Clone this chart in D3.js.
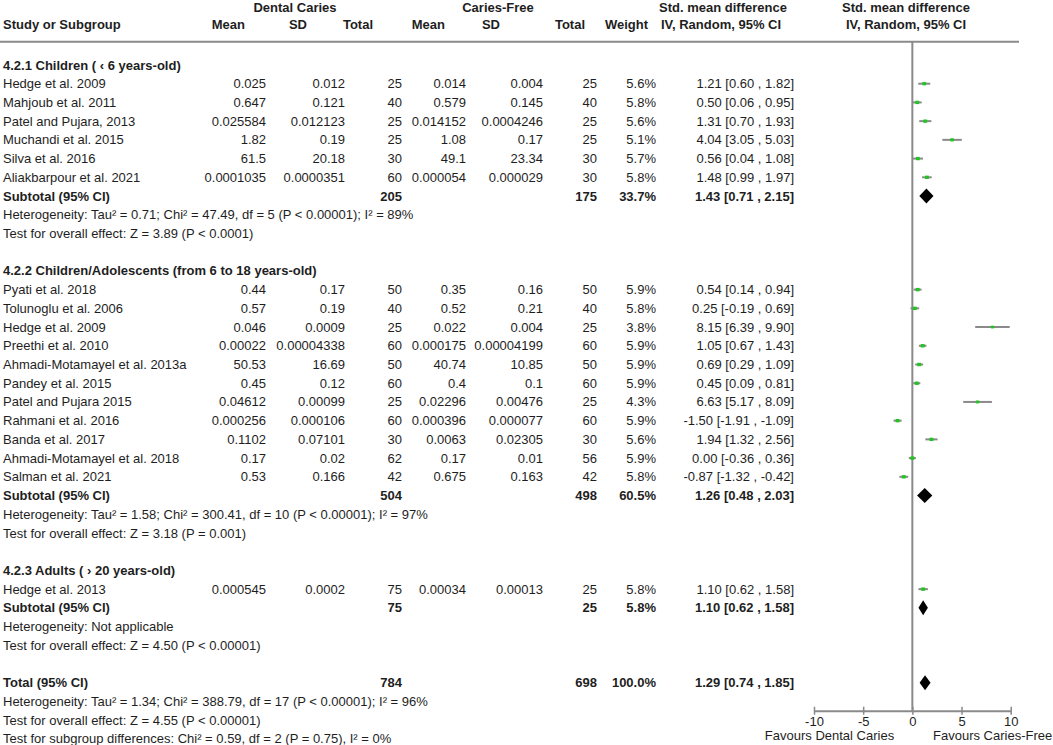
<!DOCTYPE html>
<html><head><meta charset="utf-8">
<script src="https://cdn.jsdelivr.net/npm/d3@7"></script>
<style>
body{margin:0;background:#fff}
svg text{font-family:"Liberation Sans",Arial,sans-serif;font-size:13px;fill:#1e1e1e}
</style>
</head><body><svg id="c" width="1053" height="745"></svg>
<script>
// ---------- data ----------
const groupTitles = ["4.2.1 Children ( \u2039 6 years-old)", "4.2.2 Children/Adolescents (from 6 to 18 years-old)", "4.2.3 Adults ( \u203A 20 years-old)"];
const studyGroup = [0,0,0,0,0,0, 1,1,1,1,1,1,1,1,1,1,1, 2];
const studies = ["Hedge et al. 2009","Mahjoub et al. 2011","Patel and Pujara, 2013","Muchandi et al. 2015","Silva et al. 2016","Aliakbarpour et al. 2021",
  "Pyati et al. 2018","Tolunoglu et al. 2006","Hedge et al. 2009","Preethi et al. 2010","Ahmadi-Motamayel et al. 2013a","Pandey et al. 2015","Patel and Pujara 2015","Rahmani et al. 2016","Banda et al. 2017","Ahmadi-Motamayel et al. 2018","Salman et al. 2021",
  "Hedge et al. 2013"];
const meanCaries = ["0.025","0.647","0.025584","1.82","61.5","0.0001035",
  "0.44","0.57","0.046","0.00022","50.53","0.45","0.04612","0.000256","0.1102","0.17","0.53",
  "0.000545"];
const sdCaries = ["0.012","0.121","0.012123","0.19","20.18","0.0000351",
  "0.17","0.19","0.0009","0.00004338","16.69","0.12","0.00099","0.000106","0.07101","0.02","0.166",
  "0.0002"];
const nCaries = [25,40,25,25,30,60, 50,40,25,60,50,60,25,60,30,62,42, 75];
const meanFree = ["0.014","0.579","0.014152","1.08","49.1","0.000054",
  "0.35","0.52","0.022","0.000175","40.74","0.4","0.02296","0.000396","0.0063","0.17","0.675",
  "0.00034"];
const sdFree = ["0.004","0.145","0.0004246","0.17","23.34","0.000029",
  "0.16","0.21","0.004","0.00004199","10.85","0.1","0.00476","0.000077","0.02305","0.01","0.163",
  "0.00013"];
const nFree = [25,40,25,25,30,30, 50,40,25,60,50,60,25,60,30,56,42, 25];
const weights = [5.6,5.8,5.6,5.1,5.7,5.8, 5.9,5.8,3.8,5.9,5.9,5.9,4.3,5.9,5.6,5.9,5.8, 5.8];
const smd   = [1.21,0.50,1.31,4.04,0.56,1.48, 0.54,0.25,8.15,1.05,0.69,0.45,6.63,-1.50,1.94,0.00,-0.87, 1.10];
const smdLo = [0.60,0.06,0.70,3.05,0.04,0.99, 0.14,-0.19,6.39,0.67,0.29,0.09,5.17,-1.91,1.32,-0.36,-1.32, 0.62];
const smdHi = [1.82,0.95,1.93,5.03,1.08,1.97, 0.94,0.69,9.90,1.43,1.09,0.81,8.09,-1.09,2.56,0.36,-0.42, 1.58];

const subN1 = [205,504,75];
const subN2 = [175,498,25];
const subWeight = ["33.7%","60.5%","5.8%"];
const subSmd = [1.43,1.26,1.10];
const subLo = [0.71,0.48,0.62];
const subHi = [2.15,2.03,1.58];
const subHet = ["Heterogeneity: Tau\u00B2 = 0.71; Chi\u00B2 = 47.49, df = 5 (P < 0.00001); I\u00B2 = 89%",
  "Heterogeneity: Tau\u00B2 = 1.58; Chi\u00B2 = 300.41, df = 10 (P < 0.00001); I\u00B2 = 97%",
  "Heterogeneity: Not applicable"];
const subTest = ["Test for overall effect: Z = 3.89 (P < 0.0001)","Test for overall effect: Z = 3.18 (P = 0.001)","Test for overall effect: Z = 4.50 (P < 0.00001)"];

const totalN1 = 784, totalN2 = 698, totalWeight = "100.0%";
const totalSmd = 1.29, totalLo = 0.74, totalHi = 1.85;
const totalNotes = ["Heterogeneity: Tau\u00B2 = 1.34; Chi\u00B2 = 388.79, df = 17 (P < 0.00001); I\u00B2 = 96%",
  "Test for overall effect: Z = 4.55 (P < 0.00001)",
  "Test for subgroup differences: Chi\u00B2 = 0.59, df = 2 (P = 0.75), I\u00B2 = 0%"];
const axisTicks = [-10,-5,0,5,10];
const favourLabels = ["Favours Dental Caries","Favours Caries-Free"];

// ---------- layout ----------
const svg = d3.select("#c");
const x = d3.scaleLinear().domain([-10,10]).range([814, 1010.7]);
const rowY = d3.scaleLinear().domain([0,35]).range([83.7, 738.9]);
const axisY = 710.7;
const colX = {mC:266, sC:345, nC:402, mF:466, sF:543, nF:597, w:656, ci:794};
const fmt = v => v.toFixed(2);
const ciText = (e,l,h) => `${fmt(e)} [${fmt(l)} , ${fmt(h)}]`;

function txt(xp, yp, s, opts={}) {
  return svg.append("text").attr("x", xp).attr("y", yp).attr("dy","0.35em")
    .attr("text-anchor", opts.anchor || "start")
    .attr("font-weight", opts.bold ? "bold" : null).text(s);
}

// headers
txt(295, 7, "Dental Caries", {bold:true, anchor:"middle"});
txt(498, 7, "Caries-Free", {bold:true, anchor:"middle"});
txt(723, 7, "Std. mean difference", {bold:true, anchor:"middle"});
txt(906, 7, "Std. mean difference", {bold:true, anchor:"middle"});
txt(3, 24, "Study or Subgroup", {bold:true});
txt(245, 24, "Mean", {bold:true, anchor:"end"});
txt(307, 24, "SD", {bold:true, anchor:"end"});
txt(373, 24, "Total", {bold:true, anchor:"end"});
txt(445, 24, "Mean", {bold:true, anchor:"end"});
txt(500, 24, "SD", {bold:true, anchor:"end"});
txt(585, 24, "Total", {bold:true, anchor:"end"});
txt(648, 24, "Weight", {bold:true, anchor:"end"});
txt(721, 24, "IV, Random, 95% CI", {bold:true, anchor:"middle"});
txt(906, 24, "IV, Random, 95% CI", {bold:true, anchor:"middle"});

svg.append("line").attr("x1",0).attr("x2",1019).attr("y1",41.7).attr("y2",41.7)
  .attr("stroke","#8a8a8a").attr("stroke-width",2);
svg.append("line").attr("x1",x(0)).attr("x2",x(0)).attr("y1",41.7).attr("y2",axisY)
  .attr("stroke","#8a8a8a").attr("stroke-width",2);

// build rows
const groupStart = [-1, 10, 26];
const marks = [];
groupTitles.forEach((t, g) => {
  let r = groupStart[g];
  txt(3, rowY(r), t, {bold:true});
  const idx = studies.map((s,i)=>i).filter(i => studyGroup[i] === g);
  idx.forEach(i => {
    r += 1;
    const y = rowY(r);
    txt(3, y, studies[i]);
    txt(colX.mC, y, meanCaries[i], {anchor:"end"});
    txt(colX.sC, y, sdCaries[i], {anchor:"end"});
    txt(colX.nC, y, nCaries[i], {anchor:"end"});
    txt(colX.mF, y, meanFree[i], {anchor:"end"});
    txt(colX.sF, y, sdFree[i], {anchor:"end"});
    txt(colX.nF, y, nFree[i], {anchor:"end"});
    txt(colX.w, y, weights[i].toFixed(1) + "%", {anchor:"end"});
    txt(colX.ci, y, ciText(smd[i], smdLo[i], smdHi[i]), {anchor:"end"});
    marks.push({y, e:smd[i], l:smdLo[i], h:smdHi[i], w:weights[i]});
  });
  r += 1;
  const ys = rowY(r);
  txt(3, ys, "Subtotal (95% CI)", {bold:true});
  txt(colX.nC, ys, subN1[g], {bold:true, anchor:"end"});
  txt(colX.nF, ys, subN2[g], {bold:true, anchor:"end"});
  txt(colX.w, ys, subWeight[g], {bold:true, anchor:"end"});
  txt(colX.ci, ys, ciText(subSmd[g], subLo[g], subHi[g]), {bold:true, anchor:"end"});
  marks.push({y:ys, e:subSmd[g], l:subLo[g], h:subHi[g], diamond:true});
  txt(3, rowY(r+1), subHet[g]);
  txt(3, rowY(r+2), subTest[g]);
});

const yt = rowY(32);
txt(3, yt, "Total (95% CI)", {bold:true});
txt(colX.nC, yt, totalN1, {bold:true, anchor:"end"});
txt(colX.nF, yt, totalN2, {bold:true, anchor:"end"});
txt(colX.w, yt, totalWeight, {bold:true, anchor:"end"});
txt(colX.ci, yt, ciText(totalSmd, totalLo, totalHi), {bold:true, anchor:"end"});
marks.push({y:yt, e:totalSmd, l:totalLo, h:totalHi, diamond:true});
totalNotes.forEach((s,k) => txt(3, rowY(33+k), s));

// study marks
const studyMarks = marks.filter(m => !m.diamond);
svg.selectAll("line.ci").data(studyMarks).join("line").attr("class","ci")
  .attr("x1", d=>x(d.l)).attr("x2", d=>x(d.h)).attr("y1", d=>d.y).attr("y2", d=>d.y)
  .attr("stroke","#8a8a8a").attr("stroke-width",2);
svg.selectAll("rect.pt").data(studyMarks).join("rect").attr("class","pt")
  .attr("x", d=>x(d.e) - Math.sqrt(d.w)*0.8).attr("y", d=>d.y - Math.sqrt(d.w)*0.7)
  .attr("width", d=>Math.sqrt(d.w)*1.6).attr("height", d=>Math.sqrt(d.w)*1.4)
  .attr("fill","#22c422");
svg.selectAll("path.dm").data(marks.filter(m=>m.diamond)).join("path").attr("class","dm")
  .attr("d", d=>`M${x(d.l)},${d.y} L${x(d.e)},${d.y-7.5} L${x(d.h)},${d.y} L${x(d.e)},${d.y+7.5} Z`)
  .attr("fill","#000");

// axis
const ax = svg.append("g").attr("transform",`translate(0,${axisY})`)
  .call(d3.axisBottom(x).tickValues(axisTicks).tickFormat(d => String(d)).tickSizeInner(3).tickSizeOuter(0).tickPadding(5));
ax.select(".domain").attr("stroke","#8a8a8a").attr("stroke-width",2);
ax.selectAll(".tick line").attr("stroke","#8a8a8a").attr("stroke-width",1.5).attr("y1",-4).attr("y2",4);
ax.selectAll(".tick text").attr("font-size",null).attr("font-family",null).attr("fill",null).attr("y",6).attr("dy","0.71em");
txt(x(-15), 735, favourLabels[0]);
txt(x(2.1), 735, favourLabels[1]);
</script>
</body></html>
